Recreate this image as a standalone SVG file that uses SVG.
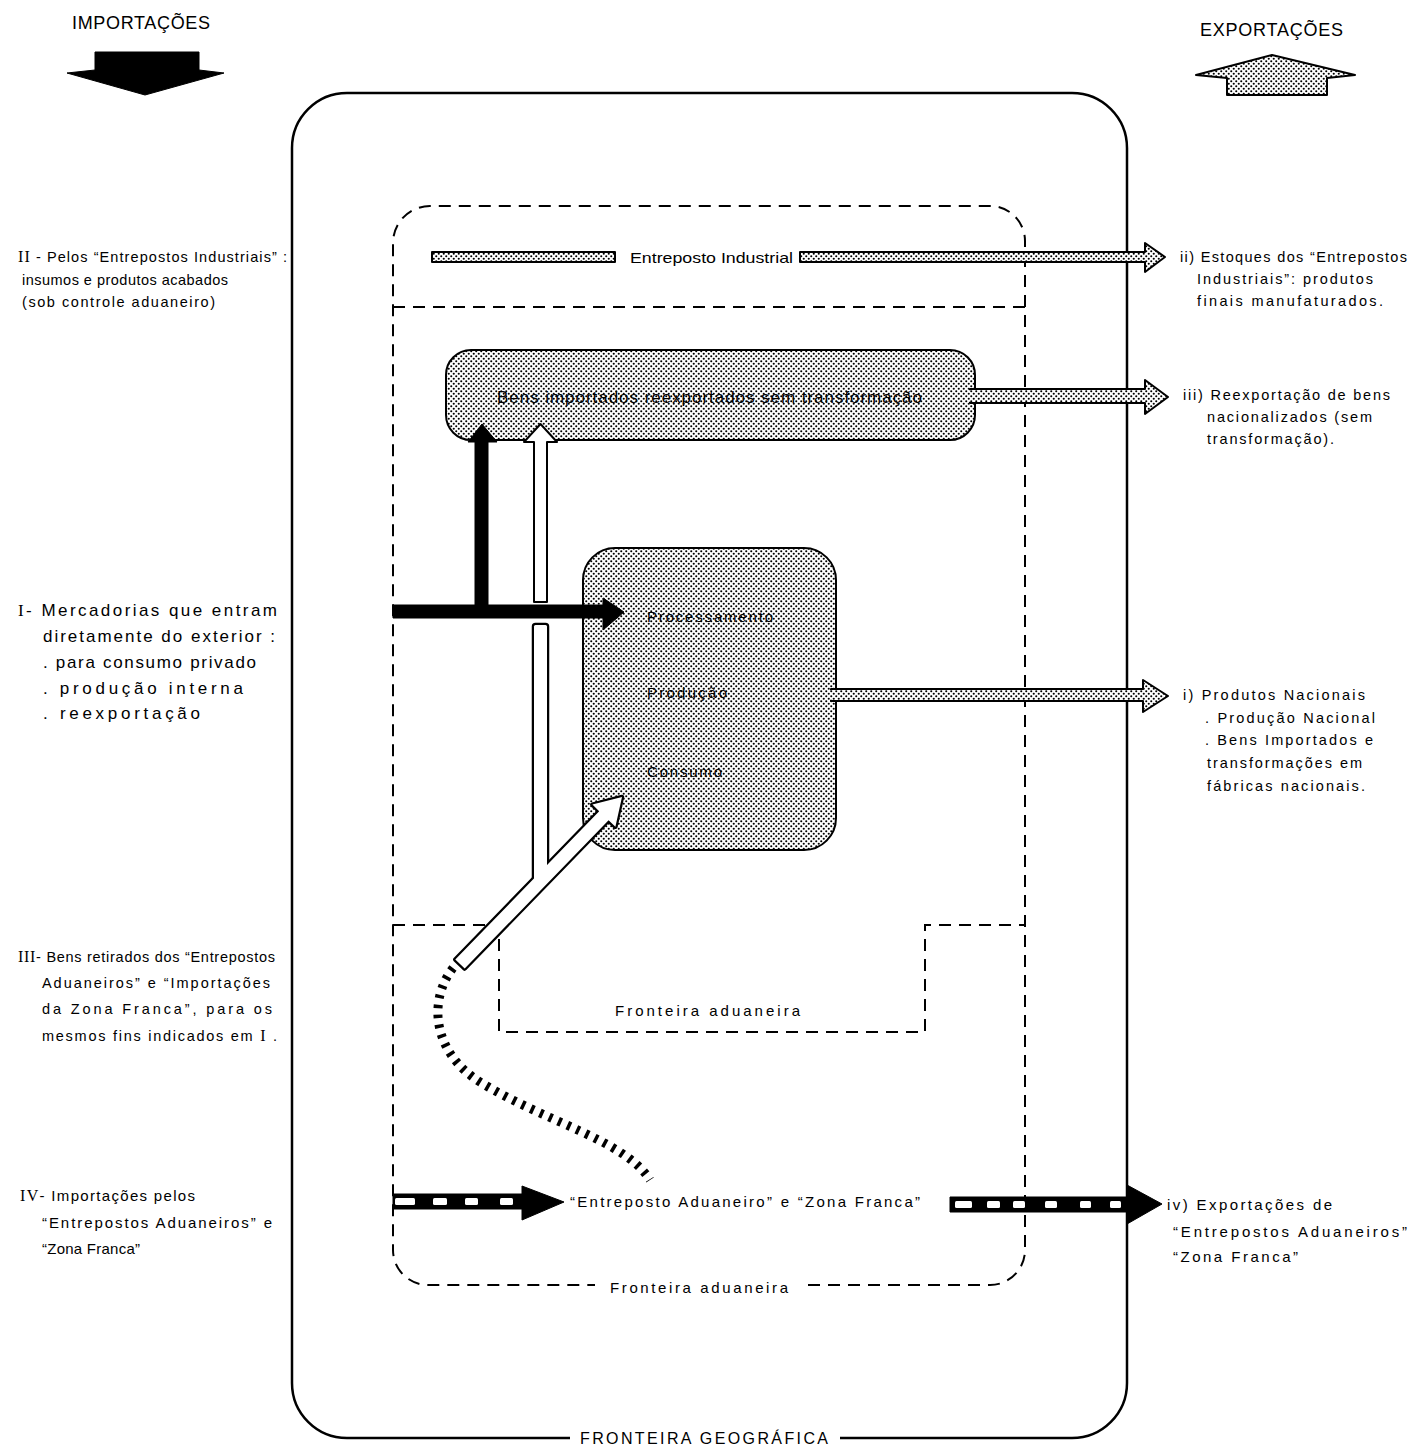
<svg xmlns="http://www.w3.org/2000/svg" width="1411" height="1450" viewBox="0 0 1411 1450">
<style>
text{font-family:"Liberation Sans","DejaVu Sans",sans-serif;fill:#000}
.t15{font-size:15px}
.t14{font-size:14.5px}
.t17{font-size:17px}
.t18{font-size:18px}
.dash{fill:none;stroke:#000;stroke-width:2;stroke-dasharray:12 8}
.hat{fill:url(#dots);stroke:#000;stroke-width:2;stroke-linejoin:round}
.blk{fill:#000;stroke:#000;stroke-width:1;stroke-linejoin:round}
.win{fill:#fff}
</style>
<defs>
<pattern id="dots" width="5" height="5" patternUnits="userSpaceOnUse">
<rect width="5" height="5" fill="#fff"/>
<circle cx="1.25" cy="1.25" r="1.05" fill="#000"/>
<circle cx="3.75" cy="3.75" r="1.05" fill="#000"/>
</pattern>
</defs>
<rect width="1411" height="1450" fill="#fff"/>

<g id="boundaries">
<path id="fronteira-geografica" d="M 840 1438 H 1072 A 55 55 0 0 0 1127 1383 V 148 A 55 55 0 0 0 1072 93 H 347 A 55 55 0 0 0 292 148 V 1383 A 55 55 0 0 0 347 1438 H 570" fill="none" stroke="#000" stroke-width="2.5"/>
<path id="fronteira-aduaneira" class="dash" d="M 808 1285 H 990 A 35 35 0 0 0 1025 1250 V 241 A 35 35 0 0 0 990 206 H 430 A 37 37 0 0 0 393 243 V 1250 A 35 35 0 0 0 428 1285 H 595"/>
<path id="entreposto-ind-limite" class="dash" d="M 393 307 H 1025"/>
<path id="fronteira-aduaneira-interna" class="dash" d="M 393 925 H 499 V 1032 H 925 V 925 H 1025"/>
</g>

<g id="node-bens-importados">
<rect x="446" y="350" width="529" height="90" rx="25" class="hat" stroke-width="2.5"/>
</g>
<g id="node-producao">
<rect x="583" y="548" width="253" height="302" rx="32" class="hat" stroke-width="2.5"/>
</g>

<g id="connectors">
<polygon class="blk" points="95,52 199,52 199,70 224,73 145,95 67,73 95,70"/>
<polygon class="hat" points="1272,55 1355,75 1327,78 1327,95 1227,95 1227,78 1196,75"/>

<rect class="hat" x="432" y="252" width="183" height="10"/>
<polygon class="hat" points="800,252 1145,252 1145,243 1165,257 1145,272 1145,262 800,262"/>

<polygon class="hat" points="970,389 1145,389 1145,380 1168,397 1145,414 1145,403 970,403"/>
<rect x="966" y="390.2" width="14" height="11.6" fill="url(#dots)"/>

<polygon class="hat" points="831,689 1143,689 1143,680 1168,696 1143,712 1143,701 831,701"/>
<rect x="828" y="690.2" width="14" height="9.6" fill="url(#dots)"/>

<polygon points="534,602 534,442 524,442 540.5,424 557,442 547,442 547,602" fill="#fff" stroke="#000" stroke-width="2" stroke-linejoin="round"/>

<g stroke="#000" stroke-width="4.5" stroke-linejoin="round" fill="#fff">
<rect x="534" y="625" width="13" height="258" rx="1.5"/>
<polygon points="455.3,959.5 599.2,811.2 592.4,804.6 622,797 615.4,826.8 608.6,820.2 464.7,968.5"/>
</g>
<g fill="#fff">
<rect x="534" y="625" width="13" height="258" rx="1.5"/>
<polygon points="455.3,959.5 599.2,811.2 592.4,804.6 622,797 615.4,826.8 608.6,820.2 464.7,968.5"/>
</g>

<polygon class="blk" points="393,605 603,605 603,598 624,612 603,630 603,618 393,618"/>
<polygon class="blk" points="475,612 475,442 468,442 482,424 497,442 488,442 488,612"/>

<path d="M 453 968 C 428 1000, 432 1052, 480 1082 C 545 1122, 625 1140, 650 1180" fill="none" stroke="#000" stroke-width="9" stroke-dasharray="3.5 6.5"/>

<polygon class="blk" points="393,1194 522,1194 522,1186 564,1202 522,1220 522,1209 393,1209"/>
<rect class="win" x="395" y="1198" width="20" height="7" rx="1.5"/>
<rect class="win" x="433" y="1198" width="14" height="7" rx="1.5"/>
<rect class="win" x="465" y="1198" width="13" height="7" rx="1.5"/>
<rect class="win" x="500" y="1198" width="13" height="7" rx="1.5"/>

<polygon class="blk" points="950,1197 1127,1197 1127,1185 1162,1204 1127,1224 1127,1212 950,1212"/>
<rect class="win" x="955" y="1201" width="17" height="7" rx="1.5"/>
<rect class="win" x="987" y="1201" width="13" height="7" rx="1.5"/>
<rect class="win" x="1013" y="1201" width="12" height="7" rx="1.5"/>
<rect class="win" x="1045" y="1201" width="12" height="7" rx="1.5"/>
<rect class="win" x="1080" y="1201" width="11" height="7" rx="1.5"/>
<rect class="win" x="1110" y="1201" width="11" height="7" rx="1.5"/>
</g>

<g id="labels-center">
<text class="t15" x="630" y="263" textLength="163" lengthAdjust="spacingAndGlyphs">Entreposto Industrial</text>
<text x="497" y="403" textLength="425" lengthAdjust="spacing" style="font-size:17px">Bens importados reexportados sem transformação</text>
<text class="t15" x="647" y="622" textLength="126" lengthAdjust="spacing">Processamento</text>
<text class="t15" x="647" y="698" textLength="80" lengthAdjust="spacing">Produção</text>
<text class="t15" x="647" y="777" textLength="75" lengthAdjust="spacing">Consumo</text>
<text class="t15" x="570" y="1207" textLength="350" lengthAdjust="spacing">“Entreposto  Aduaneiro” e “Zona Franca”</text>
<text class="t15" x="615" y="1016" textLength="185" lengthAdjust="spacing">Fronteira  aduaneira</text>
<text class="t15" x="610" y="1293" textLength="178" lengthAdjust="spacing">Fronteira  aduaneira</text>
<text x="580" y="1444" textLength="248" lengthAdjust="spacing" style="font-size:16px">FRONTEIRA  GEOGRÁFICA</text>
<text class="t18" x="72" y="29" textLength="138" lengthAdjust="spacing">IMPORTAÇÕES</text>
<text class="t18" x="1200" y="36" textLength="143" lengthAdjust="spacing">EXPORTAÇÕES</text>
</g>

<g id="node-II">
<text class="t14" x="18" y="262" textLength="269" lengthAdjust="spacing"><tspan font-family="Liberation Serif" font-size="16">II</tspan> - Pelos “Entrepostos Industriais” :</text>
<text class="t14" x="22" y="285" textLength="206" lengthAdjust="spacing">insumos e produtos acabados</text>
<text class="t14" x="22" y="307" textLength="193" lengthAdjust="spacing">(sob controle aduaneiro)</text>
</g>
<g id="node-I">
<text class="t17" x="18" y="616" textLength="259" lengthAdjust="spacing"><tspan font-family="Liberation Serif">I</tspan>- Mercadorias  que  entram</text>
<text class="t17" x="43" y="642" textLength="232" lengthAdjust="spacing">diretamente  do  exterior :</text>
<text class="t17" x="43" y="668" textLength="213" lengthAdjust="spacing">. para consumo privado</text>
<text class="t17" x="43" y="694" textLength="200" lengthAdjust="spacing">. produção interna</text>
<text class="t17" x="43" y="719" textLength="157" lengthAdjust="spacing">. reexportação</text>
</g>
<g id="node-III">
<text class="t14" x="18" y="962" textLength="257" lengthAdjust="spacing"><tspan font-family="Liberation Serif" font-size="16">III</tspan>- Bens retirados dos “Entrepostos</text>
<text class="t14" x="42" y="988" textLength="228" lengthAdjust="spacing">Aduaneiros” e “Importações</text>
<text class="t14" x="42" y="1014" textLength="230" lengthAdjust="spacing">da  Zona  Franca”, para os</text>
<text class="t14" x="42" y="1041" textLength="235" lengthAdjust="spacing">mesmos fins indicados em <tspan font-family="Liberation Serif" font-size="16">I</tspan> .</text>
</g>
<g id="node-IV">
<text class="t15" x="20" y="1201" textLength="175" lengthAdjust="spacing"><tspan font-family="Liberation Serif" font-size="16">IV</tspan>- Importações  pelos</text>
<text class="t15" x="42" y="1228" textLength="230" lengthAdjust="spacing">“Entrepostos Aduaneiros”    e</text>
<text class="t15" x="42" y="1254" textLength="98" lengthAdjust="spacing">“Zona Franca”</text>
</g>
<g id="node-ii">
<text class="t14" x="1180" y="262" textLength="227" lengthAdjust="spacing">ii) Estoques dos “Entrepostos</text>
<text class="t14" x="1197" y="284" textLength="176" lengthAdjust="spacing">Industriais”: produtos</text>
<text class="t14" x="1197" y="306" textLength="186" lengthAdjust="spacing">finais manufaturados.</text>
</g>
<g id="node-iii">
<text class="t14" x="1183" y="400" textLength="207" lengthAdjust="spacing">iii) Reexportação de bens</text>
<text class="t14" x="1207" y="422" textLength="165" lengthAdjust="spacing">nacionalizados (sem</text>
<text class="t14" x="1207" y="444" textLength="127" lengthAdjust="spacing">transformação).</text>
</g>
<g id="node-i">
<text class="t14" x="1183" y="700" textLength="182" lengthAdjust="spacing">i)  Produtos Nacionais</text>
<text class="t14" x="1205" y="723" textLength="170" lengthAdjust="spacing">. Produção Nacional</text>
<text class="t14" x="1205" y="745" textLength="168" lengthAdjust="spacing">. Bens Importados e</text>
<text class="t14" x="1207" y="768" textLength="155" lengthAdjust="spacing">transformações em</text>
<text class="t14" x="1207" y="791" textLength="158" lengthAdjust="spacing">fábricas nacionais.</text>
</g>
<g id="node-iv">
<text class="t15" x="1167" y="1210" textLength="165" lengthAdjust="spacing">iv) Exportações de</text>
<text class="t15" x="1173" y="1237" textLength="234" lengthAdjust="spacing">“Entrepostos Aduaneiros”</text>
<text class="t15" x="1173" y="1262" textLength="125" lengthAdjust="spacing">“Zona  Franca”</text>
</g>
</svg>
